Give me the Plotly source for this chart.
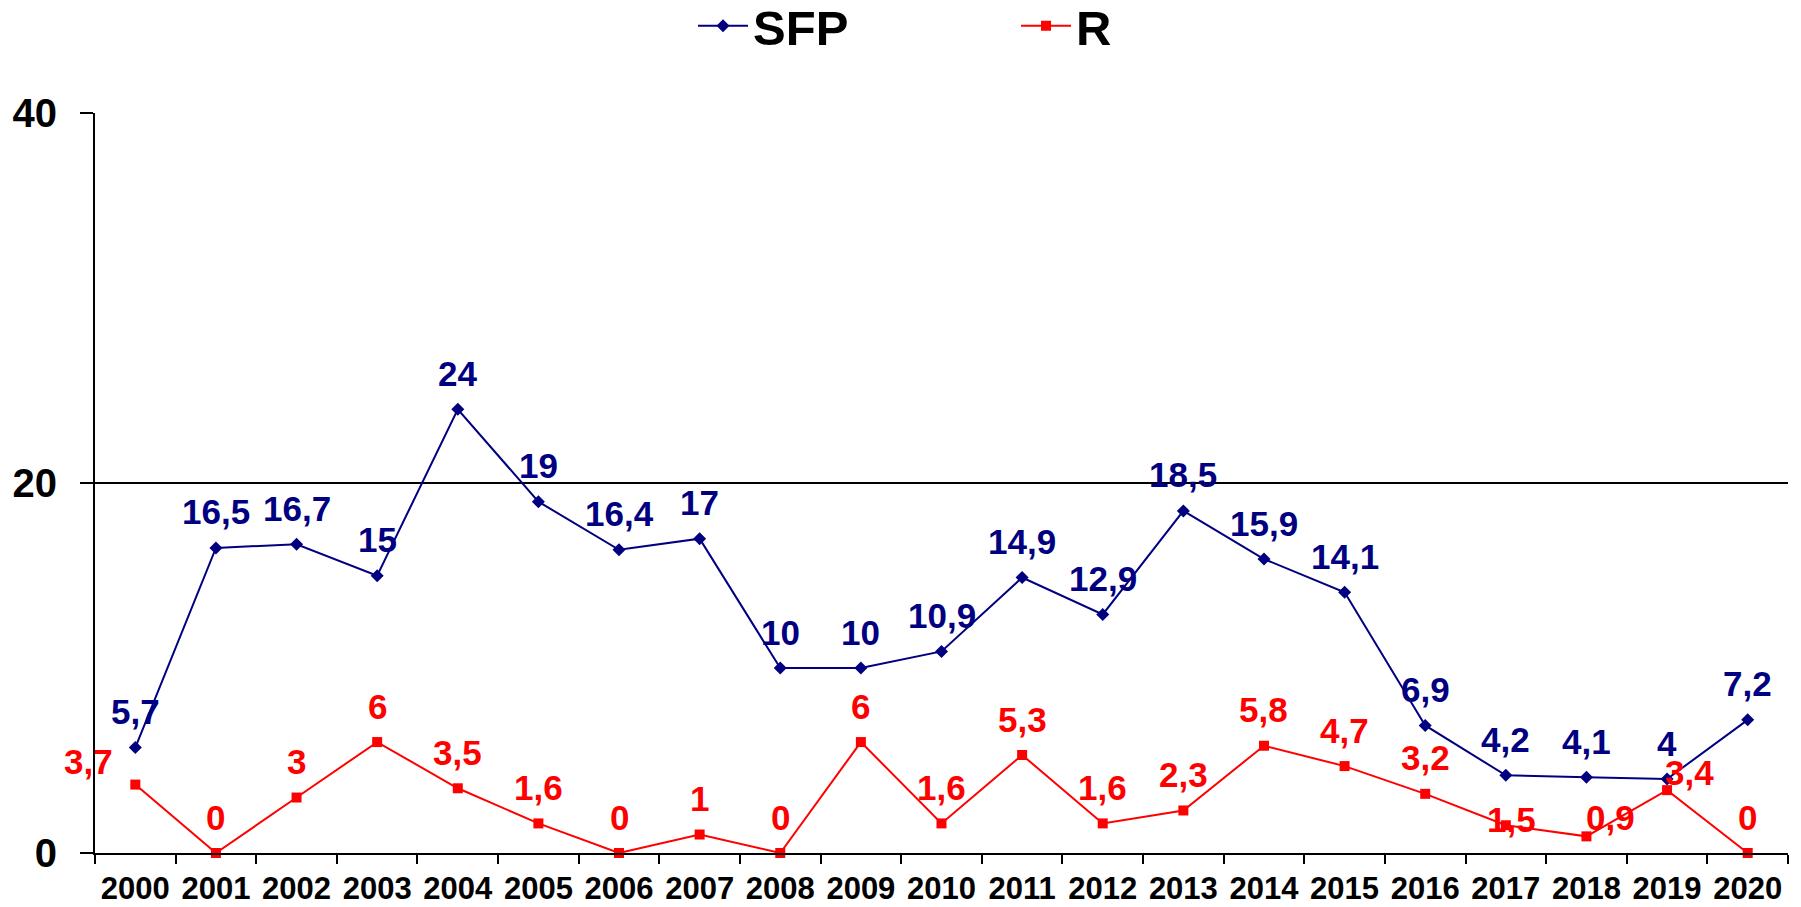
import plotly.graph_objects as go

years = ["2000", "2001", "2002", "2003", "2004", "2005", "2006", "2007", "2008", "2009",
         "2010", "2011", "2012", "2013", "2014", "2015", "2016", "2017", "2018", "2019", "2020"]
sfp = [5.7, 16.5, 16.7, 15, 24, 19, 16.4, 17, 10, 10,
       10.9, 14.9, 12.9, 18.5, 15.9, 14.1, 6.9, 4.2, 4.1, 4, 7.2]
r = [3.7, 0, 3, 6, 3.5, 1.6, 0, 1, 0, 6,
     1.6, 5.3, 1.6, 2.3, 5.8, 4.7, 3.2, 1.5, 0.9, 3.4, 0]
y_ticks = [0, 20, 40]

SFP_COLOR = "#000080"
R_COLOR = "#FF0000"
FONT = "Liberation Sans, Arial, sans-serif"

# the page body adds an 8px margin, so the figure is sized to fit the window
W, H = 1793, 899


def fmt(v):
    return f"{v:g}".replace(".", ",")


# label offsets in pixels (dx, dy) relative to the point; default above
default_shift = (0, 36)
r_shift = {"2000": (-47, 23), "2017": (6, 6), "2018": (24, 19), "2019": (22, 18)}

fig = go.Figure()
fig.add_trace(go.Scatter(
    x=years, y=sfp, name="SFP", mode="lines+markers",
    line=dict(color=SFP_COLOR, width=2),
    marker=dict(symbol="diamond", size=10, color=SFP_COLOR),
    cliponaxis=False,
))
fig.add_trace(go.Scatter(
    x=years, y=r, name="R", mode="lines+markers",
    line=dict(color=R_COLOR, width=2),
    marker=dict(symbol="square", size=10, color=R_COLOR),
    cliponaxis=False,
))

annotations = []
for i, (yr, v) in enumerate(zip(years, sfp)):
    dx, dy = default_shift
    annotations.append(dict(x=i, y=v, xref="x", yref="y", text=fmt(v), showarrow=False,
                            xanchor="center", yanchor="middle", xshift=dx, yshift=dy,
                            font=dict(family=FONT, size=35, color=SFP_COLOR, weight="bold")))
for i, (yr, v) in enumerate(zip(years, r)):
    dx, dy = r_shift.get(yr, default_shift)
    annotations.append(dict(x=i, y=v, xref="x", yref="y", text=fmt(v), showarrow=False,
                            xanchor="center", yanchor="middle", xshift=dx, yshift=dy,
                            font=dict(family=FONT, size=35, color=R_COLOR, weight="bold")))

fig.update_layout(
    width=W, height=H,
    margin=dict(l=87, r=13, t=105, b=54, autoexpand=False),
    paper_bgcolor="white", plot_bgcolor="white",
    font=dict(family=FONT, color="black"),
    showlegend=True,
    legend=dict(orientation="h", xref="container", yref="container",
                x=0.5622, y=1 - 18 / H, xanchor="center", yanchor="middle",
                font=dict(family=FONT, size=49, color="black", weight="bold"),
                entrywidth=258, itemwidth=50, bgcolor="rgba(0,0,0,0)"),
    annotations=annotations,
)
fig.update_xaxes(
    type="category", range=[-0.5, 20.5], tickson="boundaries",
    ticks="outside", ticklen=9, tickwidth=2, tickcolor="black",
    showline=True, linecolor="black", linewidth=2,
    showgrid=False, zeroline=False, automargin=False,
    tickfont=dict(family=FONT, size=31, color="black", weight="bold"),
    ticklabelstandoff=7,
)
fig.update_yaxes(
    range=[0, 40.02], tickvals=y_ticks, ticktext=[str(t) for t in y_ticks],
    ticks="outside", ticklen=13, tickwidth=2, tickcolor="black",
    showline=True, linecolor="black", linewidth=2,
    showgrid=True, gridcolor="black", gridwidth=1.5, zeroline=False, automargin=False,
    tickfont=dict(family=FONT, size=40, color="black", weight="bold"),
    ticklabelstandoff=15,
)

fig.write_html("out.html")
